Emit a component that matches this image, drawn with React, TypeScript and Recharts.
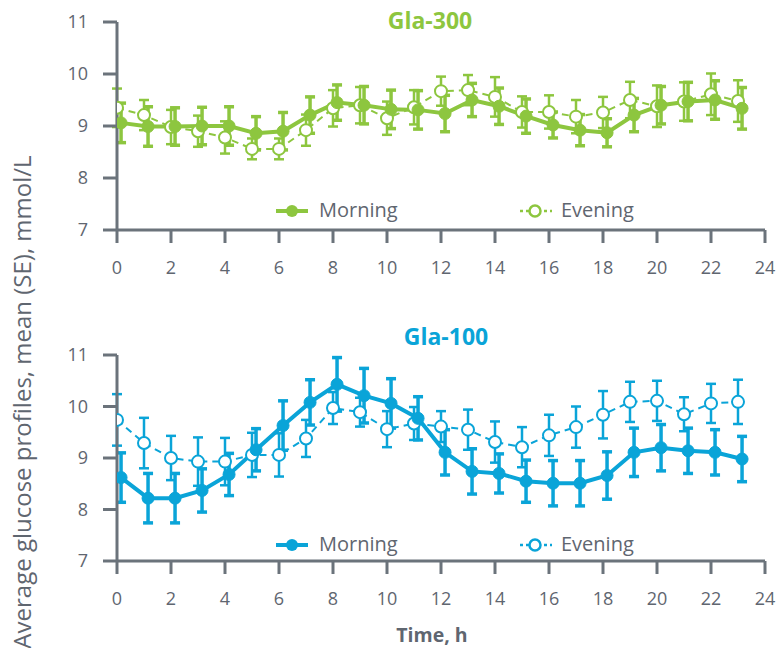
import { LineChart, Line, XAxis, YAxis, ErrorBar } from 'recharts'

// Hour of day for each sample
const HOURS = [0, 1, 2, 3, 4, 5, 6, 7, 8, 9, 10, 11, 12, 13, 14, 15, 16, 17, 18, 19, 20, 21, 22, 23]

// Gla-300 glucose means and SE (mmol/L)
const GLA300_MORNING = [9.06, 8.99, 8.99, 9.0, 9.0, 8.86, 8.9, 9.21, 9.45, 9.4, 9.32, 9.31, 9.24, 9.5, 9.38, 9.19, 9.02, 8.92, 8.87, 9.21, 9.4, 9.47, 9.5, 9.34]
const GLA300_MORNING_SE = [0.38, 0.38, 0.36, 0.36, 0.37, 0.32, 0.36, 0.35, 0.34, 0.36, 0.37, 0.37, 0.35, 0.32, 0.35, 0.33, 0.25, 0.3, 0.27, 0.32, 0.36, 0.37, 0.37, 0.4]
const GLA300_EVENING = [9.35, 9.21, 8.98, 8.9, 8.78, 8.56, 8.56, 8.92, 9.34, 9.4, 9.15, 9.36, 9.67, 9.69, 9.56, 9.27, 9.27, 9.18, 9.26, 9.5, 9.38, 9.47, 9.61, 9.48]
const GLA300_EVENING_SE = [0.37, 0.29, 0.33, 0.3, 0.31, 0.2, 0.2, 0.3, 0.35, 0.35, 0.32, 0.33, 0.28, 0.29, 0.38, 0.3, 0.32, 0.32, 0.3, 0.35, 0.4, 0.37, 0.4, 0.4]

// Gla-100 glucose means and SE (mmol/L)
const GLA100_MORNING = [8.62, 8.22, 8.22, 8.37, 8.68, 9.16, 9.63, 10.08, 10.43, 10.21, 10.06, 9.77, 9.11, 8.74, 8.7, 8.55, 8.51, 8.51, 8.66, 9.11, 9.2, 9.14, 9.11, 8.98]
const GLA100_MORNING_SE = [0.48, 0.48, 0.48, 0.42, 0.41, 0.41, 0.48, 0.44, 0.52, 0.53, 0.48, 0.42, 0.44, 0.44, 0.38, 0.41, 0.44, 0.44, 0.46, 0.47, 0.45, 0.44, 0.44, 0.44]
const GLA100_EVENING = [9.74, 9.29, 9.0, 8.93, 8.93, 9.06, 9.06, 9.38, 9.97, 9.89, 9.56, 9.67, 9.61, 9.55, 9.31, 9.21, 9.44, 9.6, 9.84, 10.09, 10.11, 9.85, 10.06, 10.09]
const GLA100_EVENING_SE = [0.5, 0.49, 0.43, 0.47, 0.46, 0.43, 0.42, 0.36, 0.31, 0.28, 0.35, 0.32, 0.3, 0.39, 0.4, 0.39, 0.4, 0.4, 0.46, 0.39, 0.39, 0.33, 0.38, 0.43]

const X_TICKS = [0, 2, 4, 6, 8, 10, 12, 14, 16, 18, 20, 22, 24]
const Y_TICKS = [7, 8, 9, 10, 11]

const GREEN = '#8dc63f'
const BLUE = '#0aa4d8'
const AXIS = '#6b737b'
const TEXT = '#5f6670'
const FONT = '"Open Sans", sans-serif'

// morning points are nudged right a little so the error bars don't overlap
const MORNING_SHIFT = 0.15

function rows(values: number[], se: number[], shift = 0) {
  return HOURS.map((h, i) => ({ hour: h + shift, value: values[i], se: se[i] }))
}

interface PanelProps {
  top: number
  height: number
  marginTop: number
  marginBottom: number
  color: string
  morning: number[]
  morningSe: number[]
  evening: number[]
  eveningSe: number[]
}

function Panel({ top, height, marginTop, marginBottom, color, morning, morningSe, evening, eveningSe }: PanelProps) {
  const morningData = rows(morning, morningSe, MORNING_SHIFT)
  const eveningData = rows(evening, eveningSe)
  return (
    <div style={{ position: 'absolute', left: 0, top }}>
      <LineChart
        width={776}
        height={height}
        margin={{ top: marginTop, right: 11, left: 57, bottom: marginBottom }}
      >
        <XAxis
          type="number"
          dataKey="hour"
          domain={[0, 24]}
          ticks={X_TICKS}
          allowDataOverflow
          height={50}
          axisLine={{ stroke: AXIS, strokeWidth: 3 }}
          tickLine={{ stroke: AXIS, strokeWidth: 3 }}
          tickSize={13}
          tickMargin={18}
          tick={{ fill: TEXT, fontSize: 18, fontFamily: FONT }}
        />
        <YAxis
          type="number"
          domain={[7, 11]}
          ticks={Y_TICKS}
          width={60}
          axisLine={{ stroke: AXIS, strokeWidth: 3 }}
          tickLine={{ stroke: AXIS, strokeWidth: 3 }}
          tickSize={14}
          tickMargin={15}
          tick={{ fill: TEXT, fontSize: 18, fontFamily: FONT }}
        />
        <Line
          data={eveningData}
          dataKey="value"
          stroke={color}
          strokeWidth={2}
          strokeDasharray="7 5"
          dot={{ r: 6, fill: '#fff', stroke: color, strokeWidth: 2, strokeDasharray: '' }}
          isAnimationActive={false}
        >
          <ErrorBar dataKey="se" direction="y" width={5} stroke={color} strokeWidth={2.5} />
        </Line>
        <Line
          data={morningData}
          dataKey="value"
          stroke={color}
          strokeWidth={4}
          dot={{ r: 6, fill: color, stroke: color, strokeWidth: 1 }}
          isAnimationActive={false}
        >
          <ErrorBar dataKey="se" direction="y" width={5} stroke={color} strokeWidth={3.5} />
        </Line>
      </LineChart>
    </div>
  )
}

function LegendRow({ top, color }: { top: number; color: string }) {
  const label = { position: 'absolute' as const, fontFamily: FONT, fontSize: 20, color: TEXT, lineHeight: '24px' }
  return (
    <>
      <svg style={{ position: 'absolute', left: 274, top: top - 10 }} width={36} height={20}>
        <line x1={2} y1={10} x2={34} y2={10} stroke={color} strokeWidth={4} />
        <circle cx={18} cy={10} r={6} fill={color} />
      </svg>
      <div style={{ ...label, left: 319, top: top - 13 }}>Morning</div>
      <svg style={{ position: 'absolute', left: 518, top: top - 10 }} width={36} height={20}>
        <line x1={2} y1={10} x2={34} y2={10} stroke={color} strokeWidth={2.5} strokeDasharray="3 3" />
        <circle cx={17} cy={10} r={5.5} fill="#fff" stroke={color} strokeWidth={2.5} />
      </svg>
      <div style={{ ...label, left: 561, top: top - 13 }}>Evening</div>
    </>
  )
}

export default function App() {
  return (
    <div style={{ position: 'absolute', left: 0, top: 0, width: 776, height: 648, overflow: 'hidden', background: '#fff' }}>
      <Panel
        top={0}
        height={290}
        marginTop={22}
        marginBottom={10}
        color={GREEN}
        morning={GLA300_MORNING}
        morningSe={GLA300_MORNING_SE}
        evening={GLA300_EVENING}
        eveningSe={GLA300_EVENING_SE}
      />
      <Panel
        top={320}
        height={328}
        marginTop={35}
        marginBottom={37}
        color={BLUE}
        morning={GLA100_MORNING}
        morningSe={GLA100_MORNING_SE}
        evening={GLA100_EVENING}
        eveningSe={GLA100_EVENING_SE}
      />
      <div style={{ position: 'absolute', left: 430, top: 4, transform: 'translateX(-50%)', fontFamily: FONT, fontWeight: 700, fontSize: 23, color: GREEN, whiteSpace: 'nowrap' }}>
        Gla-300
      </div>
      <div style={{ position: 'absolute', left: 446, top: 320, transform: 'translateX(-50%)', fontFamily: FONT, fontWeight: 700, fontSize: 23, color: BLUE, whiteSpace: 'nowrap' }}>
        Gla-100
      </div>
      <LegendRow top={211} color={GREEN} />
      <LegendRow top={545} color={BLUE} />
      <div style={{ position: 'absolute', left: 432, top: 621, transform: 'translateX(-50%)', fontFamily: FONT, fontWeight: 700, fontSize: 19.5, color: TEXT, whiteSpace: 'nowrap' }}>
        Time, h
      </div>
      <div style={{ position: 'absolute', left: 21, top: 402, transform: 'translate(-50%, -50%) rotate(-90deg)', fontFamily: FONT, fontSize: 24, color: TEXT, whiteSpace: 'nowrap' }}>
        Average glucose profiles, mean (SE), mmol/L
      </div>
    </div>
  )
}
